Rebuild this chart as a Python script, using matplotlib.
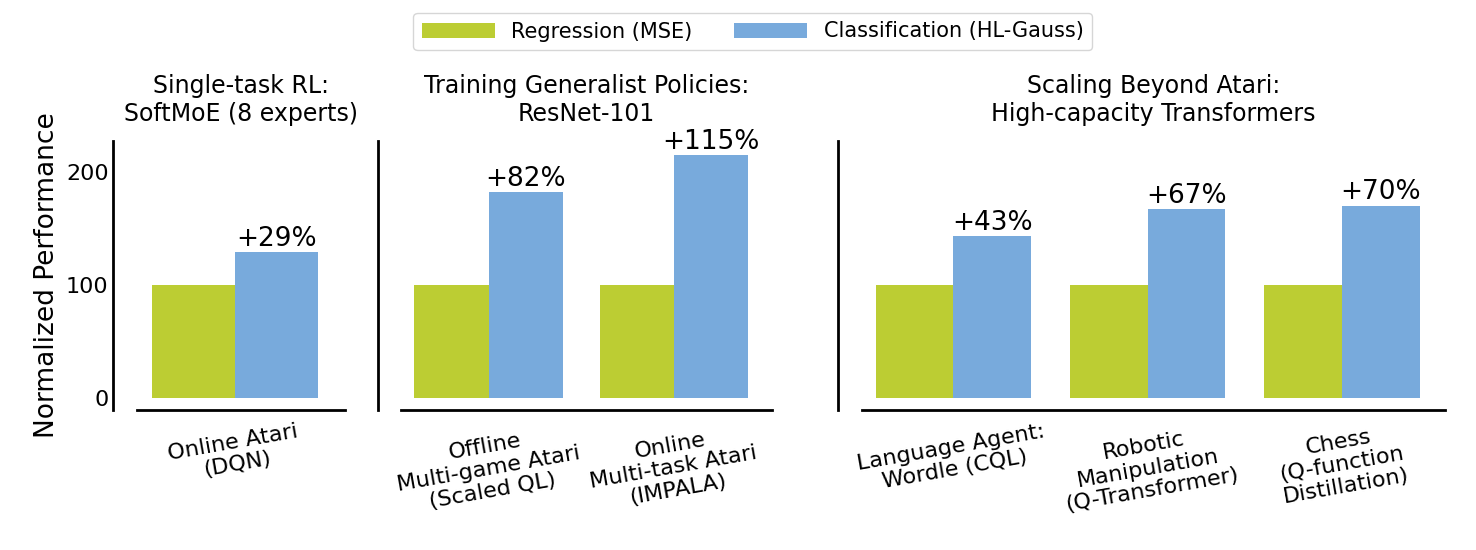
import numpy as np
from matplotlib import pyplot as plt

titles = ['Single-task RL:\nSoftMoE (8 experts)',
          'Training Generalist Policies:\nResNet-101',
          'Scaling Beyond Atari:\nHigh-capacity Transformers']
groups = [['Online Atari\n(DQN)'],
          ['Offline\nMulti-game Atari\n(Scaled QL)', 'Online\nMulti-task Atari\n(IMPALA)'],
          ['Language Agent:\nWordle (CQL)', 'Robotic\nManipulation\n(Q-Transformer)', 'Chess\n(Q-function\nDistillation)']]
mse = [[100], [100, 100], [100, 100, 100]]
hl_gauss = [[129], [182, 215], [143, 167, 170]]
gains = [['+29%'], ['+82%', '+115%'], ['+43%', '+67%', '+70%']]

green = '#bccd33'
blue = '#78aadc'

fig = plt.figure(figsize=(14.76, 5.5), dpi=100)
rects = [[0.0928, 0.2545, 0.141, 0.49],
         [0.272, 0.2545, 0.251, 0.49],
         [0.584, 0.2545, 0.395, 0.49]]
w = 0.4
for i, r in enumerate(rects):
    ax = fig.add_axes(r)
    x = np.arange(len(groups[i]))
    b1 = ax.bar(x - w / 2, mse[i], w, color=green, label='Regression (MSE)')
    b2 = ax.bar(x + w / 2, hl_gauss[i], w, color=blue, label='Classification (HL-Gauss)')
    for xi, v, g in zip(x, hl_gauss[i], gains[i]):
        ax.text(xi + w / 2, v + 0.5, g, ha='center', va='bottom', fontsize=19)
    ax.set_xlim(-0.47, len(x) - 0.47)
    ax.set_ylim(-11, 228)
    ax.set_xticks(x)
    ax.set_xticklabels(groups[i], rotation=10, fontsize=16, linespacing=1.15)
    ax.set_title(titles[i], fontsize=17, pad=14)
    for s in ['top', 'right']:
        ax.spines[s].set_visible(False)
    ax.spines['left'].set_position(('outward', 17))
    ax.spines['left'].set_linewidth(2)
    ax.spines['bottom'].set_linewidth(2)
    ax.tick_params(axis='x', length=0, pad=8)
    if i == 0:
        ax.set_yticks([0, 100, 200])
        ax.tick_params(axis='y', labelsize=16, length=0)
        ax.set_ylabel('Normalized Performance', fontsize=19)
    else:
        ax.set_yticks([])

fig.legend(handles=[b1, b2], loc='upper center', ncol=2, fontsize=15,
           bbox_to_anchor=(0.51, 0.995), handlelength=3.5)
plt.savefig('out.png', dpi=100)
